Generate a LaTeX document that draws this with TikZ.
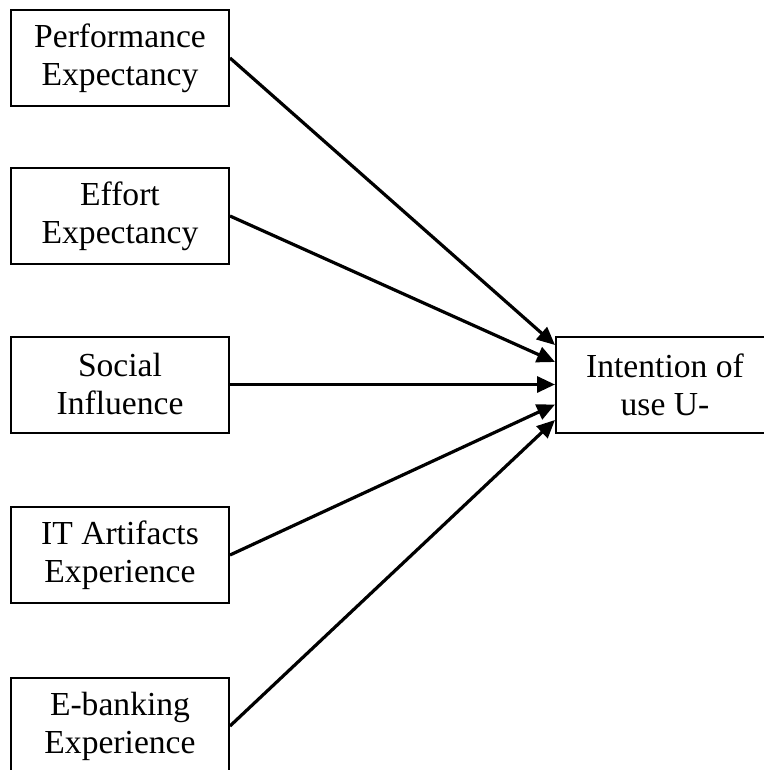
\documentclass[tikz,border=0pt]{standalone}
\usepackage{fontspec}
\setmainfont{Liberation Serif}
\usepackage{tikz}
\usetikzlibrary{arrows.meta}

\begin{document}
\begin{tikzpicture}[
    x=0.5pt, y=-0.5pt,
    box/.style={draw, line width=1pt, minimum width=109pt, minimum height=48pt, align=center, inner sep=2pt, font=\fontsize{16.8}{19}\selectfont},
    link/.style={-{Triangle[length=9pt,width=8pt]}, line width=1.6pt}
]
\useasboundingbox (0,0) rectangle (764,770);
\clip (0,0) rectangle (764,770);
% Predictors
\node[box] (pe) at (120,58) {Performance\\Expectancy};
\node[box] (ee) at (120,216) {Effort\\Expectancy};
\node[box] (si) at (120,384.5) {Social\\Influence};
\node[box] (ita) at (120,555) {IT Artifacts\\Experience};
\node[box] (eb) at (120,726) {E-banking\\Experience};

% Outcome
\node[box] (iu) at (665,384.5) {Intention of\\use U-};

\draw[link] (pe.east) -- ([yshift=19.75pt]iu.west);
\draw[link] (ee.east) -- ([yshift=11.25pt]iu.west);
\draw[link] (si.east) -- (iu.west);
\draw[link] (ita.east) -- ([yshift=-10pt]iu.west);
\draw[link] (eb.east) -- ([yshift=-17.75pt]iu.west);
\end{tikzpicture}
\end{document}
